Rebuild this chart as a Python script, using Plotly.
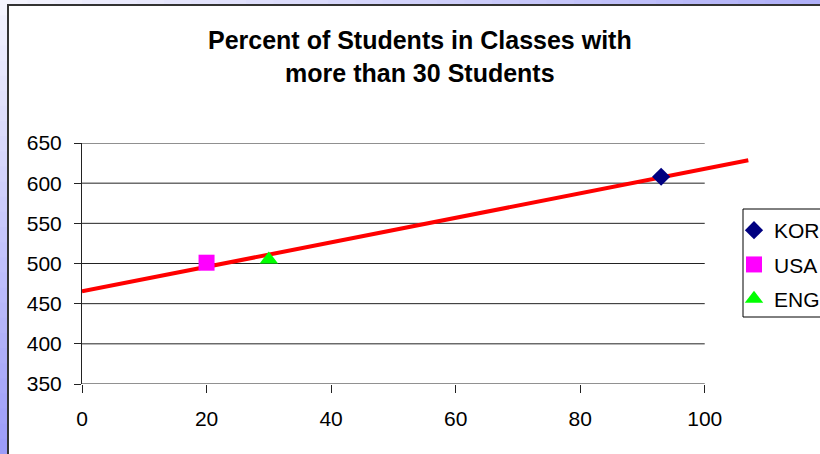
import numpy as np
import plotly.graph_objects as go

# ---- data ----
countries = ["KOR", "USA", "ENG"]
pct_large_classes = [93, 20, 30]
scores = [608, 501, 505]
marker_symbols = ["diamond", "square", "triangle-up"]
marker_colors = ["#000080", "#FF00FF", "#00FF00"]
marker_sizes = [14, 16, 16]
x_ticks = [0, 20, 40, 60, 80, 100]
y_ticks = [350, 400, 450, 500, 550, 600, 650]
trend_x_span = [0, 107]

W, H = 820, 454
ML, MR, MT, MB = 82, 53, 143, 70
PW = W - ML - MR
PH = H - MT - MB
FONT = "Liberation Sans, Arial, sans-serif"

def px(xp):
    return (xp - ML) / PW

def py(yp):
    return (H - MB - yp) / PH

fig = go.Figure()

# trendline from linear fit
slope, intercept = np.polyfit(pct_large_classes, scores, 1)
tx = np.array(trend_x_span, dtype=float)
fig.add_trace(go.Scatter(x=tx, y=slope * tx + intercept, mode="lines",
                         line=dict(color="#FF0000", width=4), showlegend=False,
                         hoverinfo="skip"))

for c, xv, yv, s, col, sz in zip(countries, pct_large_classes, scores,
                                  marker_symbols, marker_colors, marker_sizes):
    fig.add_trace(go.Scatter(x=[xv], y=[yv], mode="markers", name=c,
                             legendgroup=c,
                             marker=dict(symbol=s, color=col, size=sz,
                                         line=dict(width=0))))

shapes = []
# background gradient strips (decoration)
n = 30
top_c0 = np.array([244, 244, 254]); top_c1 = np.array([176, 176, 248])
left_c1 = np.array([156, 156, 248])
for i in range(n):
    f = i / (n - 1)
    c = (top_c0 + (top_c1 - top_c0) * f).astype(int)
    shapes.append(dict(type="rect", xref="paper", yref="paper",
                       x0=px(i * W / n), x1=px((i + 1) * W / n + 1),
                       y0=py(6), y1=py(-1), fillcolor=f"rgb({c[0]},{c[1]},{c[2]})",
                       line=dict(width=0), layer="below"))
    c = (top_c0 + (left_c1 - top_c0) * f).astype(int)
    shapes.append(dict(type="rect", xref="paper", yref="paper",
                       x0=px(-1), x1=px(9),
                       y0=py((i + 1) * H / n + 1), y1=py(i * H / n),
                       fillcolor=f"rgb({c[0]},{c[1]},{c[2]})",
                       line=dict(width=0), layer="below"))
# white chart frame
shapes.append(dict(type="rect", xref="paper", yref="paper",
                   x0=px(8), x1=px(W + 20), y0=py(H + 20), y1=py(5),
                   fillcolor="white", line=dict(color="#333333", width=2),
                   layer="below"))
# legend box
shapes.append(dict(type="rect", xref="paper", yref="paper",
                   x0=px(743), x1=px(W + 20), y0=py(317), y1=py(209),
                   fillcolor="white", line=dict(color="black", width=1),
                   layer="below"))
# gridlines limited to axis range
for yv in y_ticks:
    shapes.append(dict(type="line", xref="x", yref="y", x0=x_ticks[0],
                       x1=x_ticks[-1], y0=yv, y1=yv,
                       line=dict(color="#222222", width=1), layer="below"))

fig.update_layout(
    width=W, height=H,
    margin=dict(l=ML, r=MR, t=MT, b=MB, autoexpand=False),
    paper_bgcolor="rgb(200,200,250)",
    plot_bgcolor="rgba(0,0,0,0)",
    font=dict(family=FONT, size=21, color="black"),
    title=dict(text="Percent of Students in Classes with<br>more than 30 Students",
               font=dict(size=25, color="black", family=FONT, weight="bold"),
               x=0.512, xanchor="center", xref="container",
               y=1 - 49 / H, yanchor="middle", yref="container"),
    shapes=shapes,
    showlegend=True,
    legend=dict(x=px(734), y=py(210), xanchor="left", yanchor="top",
                bgcolor="rgba(0,0,0,0)", borderwidth=0,
                font=dict(size=21), tracegroupgap=4),
    xaxis=dict(range=[0, 110], tickvals=x_ticks, showgrid=False, zeroline=False,
               showline=False, ticks="outside", ticklen=8, tickcolor="#222222",
               tickfont=dict(size=21), ticklabelstandoff=8),
    yaxis=dict(range=[350, 650], tickvals=y_ticks, showgrid=False, zeroline=False,
               showline=True, linecolor="#222222", linewidth=1,
               ticks="outside", ticklen=7, tickcolor="#222222",
               tickfont=dict(size=21), ticklabelstandoff=8),
)

fig.write_html("out.html")
